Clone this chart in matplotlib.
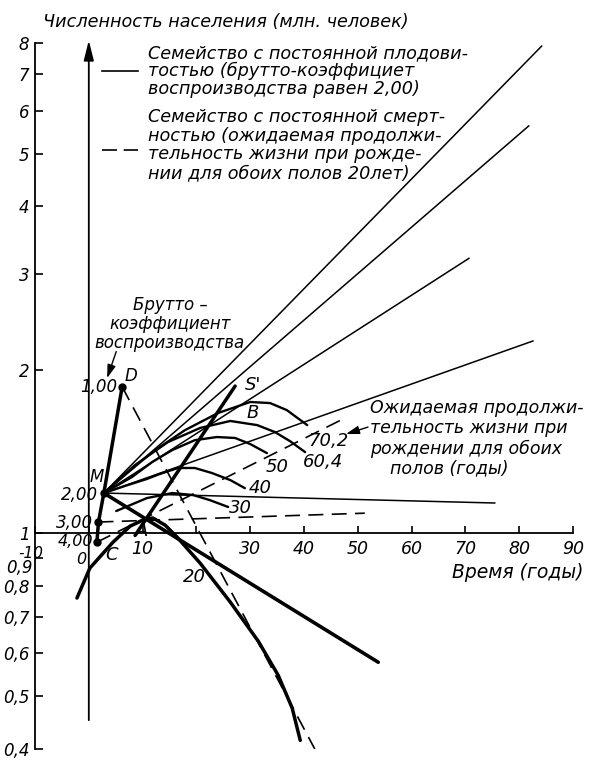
import matplotlib
matplotlib.use("Agg")
import matplotlib.pyplot as plt
from matplotlib.lines import Line2D

plt.rcParams["font.family"] = ["DejaVu Sans"]
plt.rcParams["font.style"] = "italic"
plt.rcParams["font.size"] = 11

W, H = 597, 766

# gross reproduction rate scale: D, M, 3.00, 4.00  (t in years, population in millions)
grr_labels = ["1,00", "2,00", "3,00", "4,00"]
grr_t = [6.2, 2.8, 1.8, 1.5]
grr_p = [1.86, 1.185, 1.048, 0.962]

# constant fertility family (GRR 2.00): straight runs out of M, by e0
fert_e0 = ["20", "30", "40", "50", "60,4", "70,2"]
fert_end_t = [53.8, 75.5, 82.6, 70.7, 81.8, 84.2]
fert_end_p = [0.578, 1.136, 2.26, 3.21, 5.63, 7.90]

# constant mortality family (e0 = 20): runs from D, 3.00 and 4.00
mort_from = [0, 2, 3]
mort_end_t = [42.0, 51.3, 47.6]
mort_end_p = [0.40, 1.088, 1.629]

# curved trajectories, labelled by e0
arc30_t = [5.1, 10.8, 15.5, 19.4, 22.5, 25.9]
arc30_p = [1.098, 1.160, 1.185, 1.175, 1.150, 1.117]
arc40_t = [2.8, 6.7, 10.8, 13.2, 16.6, 19.7, 22.9, 26.3, 29.0]
arc40_p = [1.185, 1.221, 1.258, 1.285, 1.318, 1.318, 1.290, 1.252, 1.210]
arc50_t = [2.8, 8.0, 11.8, 15.5, 19.7, 23.8, 27.2, 30.0, 33.1]
arc50_p = [1.185, 1.268, 1.352, 1.422, 1.483, 1.503, 1.497, 1.459, 1.404]
arc60_t = [2.8, 8.6, 14.7, 20.7, 26.3, 31.3, 34.6, 37.4, 40.2]
arc60_p = [1.185, 1.335, 1.471, 1.562, 1.609, 1.581, 1.535, 1.477, 1.410]
arc70_t = [2.8, 6.7, 11.8, 17.9, 24.0, 30.0, 33.7, 36.8, 40.6]
arc70_p = [1.185, 1.279, 1.410, 1.548, 1.664, 1.744, 1.736, 1.685, 1.581]

# thick curve through C and A
ca_t = [-2.2, 0.2, 4.5, 7.7, 10.1, 11.9, 14.2, 16.4, 20.7, 26.3, 31.5, 35.2, 37.8, 39.3]
ca_p = [0.759, 0.862, 0.962, 1.030, 1.057, 1.066, 1.034, 0.983, 0.880, 0.746,
        0.632, 0.547, 0.476, 0.415]

# line A - S'
as_t = [8.6, 27.2]
as_p = [0.99, 1.866]

y_ticks = [0.4, 0.5, 0.6, 0.7, 0.8, 0.9, 1, 2, 3, 4, 5, 6, 7, 8]
y_labels = ["0,4", "0,5", "0,6", "0,7", "0,8", "", "1", "2", "3", "4", "5", "6", "7", "8"]
x_ticks = [-10, 0, 10, 20, 30, 40, 50, 60, 70, 80, 90]
x_labels = ["", "", "10", "", "30", "40", "50", "60", "70", "80", "90"]


def px(x, y):
    return x / W, 1 - y / H


fig = plt.figure(figsize=(W / 100, H / 100), dpi=100)
ax = fig.add_axes([35 / W, 17 / H, 538 / W, 706 / H])
ax.set_yscale("log")
ax.set_xlim(-10, 90)
ax.set_ylim(0.4, 8)

for s in ("top", "right"):
    ax.spines[s].set_visible(False)
ax.spines["bottom"].set_position(("data", 1))
ax.spines["left"].set_linewidth(1.3)
ax.spines["bottom"].set_linewidth(1.3)

ax.set_yticks(y_ticks)
ax.set_yticklabels(y_labels)
ax.yaxis.set_minor_locator(plt.NullLocator())
ax.set_xticks(x_ticks)
ax.set_xticklabels(x_labels)
ax.tick_params(axis="y", direction="in", length=6, width=1.2, pad=4, labelsize=12)
ax.tick_params(axis="x", direction="in", length=5, width=1.2, pad=5, labelsize=12.5)

# labels squeezed next to the axis crossing
fig.text(*px(31, 553), "-10", ha="center", va="center", fontsize=11)
fig.text(*px(19, 568), "0,9", ha="center", va="center", fontsize=12)
fig.text(*px(81, 560), "0", ha="center", va="center", fontsize=11.5)

K = "black"
DASH = (0, (9, 5))

# constant fertility runs
for e0, t1, p1 in zip(fert_e0, fert_end_t, fert_end_p):
    lw = 2.6 if e0 == "20" else 1.1
    ax.plot([grr_t[1], t1], [grr_p[1], p1], color=K, lw=lw, solid_capstyle="round")

# constant mortality runs
for i, t1, p1 in zip(mort_from, mort_end_t, mort_end_p):
    ax.plot([grr_t[i], t1], [grr_p[i], p1], color=K, lw=1.2, ls=DASH)

# e0 arcs
for tt, pp in [(arc30_t, arc30_p), (arc40_t, arc40_p), (arc50_t, arc50_p),
               (arc60_t, arc60_p), (arc70_t, arc70_p)]:
    ax.plot(tt, pp, color=K, lw=1.7, solid_capstyle="round", solid_joinstyle="round")

ax.plot(ca_t, ca_p, color=K, lw=2.5, solid_capstyle="round", solid_joinstyle="round")
ax.plot(as_t, as_p, color=K, lw=2.5, solid_capstyle="round")

# GRR scale with its points
ax.plot(grr_t, grr_p, color=K, lw=2.5, solid_capstyle="round")
ax.plot(grr_t, grr_p, "o", color=K, ms=5)

# vertical arrow at t = 0
ax.annotate("", xy=(0, 8.09), xytext=(0, 0.452), annotation_clip=False,
            arrowprops=dict(arrowstyle="-|>,head_length=1.0,head_width=0.25",
                            color=K, lw=1.3, mutation_scale=12, shrinkA=0, shrinkB=0))

# labels on the chart
ax.text(5.3, 1.858, grr_labels[0], ha="right", va="center", fontsize=12)
ax.text(1.7, 1.175, grr_labels[1], ha="right", va="center", fontsize=12)
ax.text(0.8, 1.043, grr_labels[2], ha="right", va="center", fontsize=12)
ax.text(0.8, 0.965, grr_labels[3], ha="right", va="center", fontsize=11.5)
ax.text(7.8, 1.946, "D", ha="center", va="center", fontsize=12)
ax.text(1.5, 1.268, "M", ha="center", va="center", fontsize=12)
ax.text(9.9, 1.009, "A", ha="center", va="center", fontsize=13)
ax.text(4.3, 0.911, "C", ha="center", va="center", fontsize=13)
ax.text(30.4, 1.664, "B", ha="center", va="center", fontsize=13)
ax.text(30.6, 1.874, "S'", ha="center", va="center", fontsize=13)
ax.text(19.6, 0.830, fert_e0[0], ha="center", va="center", fontsize=13)
ax.text(28.1, 1.112, fert_e0[1], ha="center", va="center", fontsize=13)
ax.text(31.8, 1.210, fert_e0[2], ha="center", va="center", fontsize=13)
ax.text(35.0, 1.323, fert_e0[3], ha="center", va="center", fontsize=13)
ax.text(43.5, 1.352, fert_e0[4], ha="center", va="center", fontsize=13)
ax.text(44.5, 1.477, fert_e0[5], ha="center", va="center", fontsize=13)

ax.annotate("", xy=(3.4, 1.93), xytext=(5.1, 2.16),
            arrowprops=dict(arrowstyle="-|>,head_length=0.8,head_width=0.25",
                            color=K, lw=1.0, mutation_scale=10, shrinkA=0, shrinkB=0))
ax.annotate("", xy=(47.8, 1.522), xytext=(51.9, 1.568),
            arrowprops=dict(arrowstyle="-|>,head_length=0.8,head_width=0.25",
                            color=K, lw=1.0, mutation_scale=10, shrinkA=0, shrinkB=0))

# text blocks
fig.text(*px(43, 22), "Численность населения (млн. человек)", ha="left", va="center",
         fontsize=12.7)
leg1 = ["Семейство с постоянной плодови-", "тостью (брутто-коэффициет",
        "воспроизводства равен 2,00)"]
for y, s in zip([53, 71, 89], leg1):
    fig.text(*px(148, y), s, ha="left", va="center", fontsize=12.7)
leg2 = ["Семейство с постоянной смерт-", "ностью (ожидаемая продолжи-",
        "тельность жизни при рожде-", "нии для обоих полов 20лет)"]
for y, s in zip([117, 136, 154, 173], leg2):
    fig.text(*px(148, y), s, ha="left", va="center", fontsize=12.7)
fig.add_artist(Line2D([102 / W, 138 / W], [1 - 71 / H] * 2, color=K, lw=1.2))
fig.add_artist(Line2D([102 / W, 138 / W], [1 - 150 / H] * 2, color=K, lw=1.2, ls=(0, (9, 4))))

for y, s in zip([305, 324, 343], ["Брутто –", "коэффициент", "воспроизводства"]):
    fig.text(*px(170, y), s, ha="center", va="center", fontsize=12)

for x, y, s in zip([370, 370, 370, 390], [408, 428, 449, 468],
                   ["Ожидаемая продолжи-", "тельность жизни при",
                    "рождении для обоих", "полов (годы)"]):
    fig.text(*px(x, y), s, ha="left", va="center", fontsize=12.5)

fig.text(*px(518, 572), "Время (годы)", ha="center", va="center", fontsize=13.5)

fig.savefig("out.png", dpi=100)
